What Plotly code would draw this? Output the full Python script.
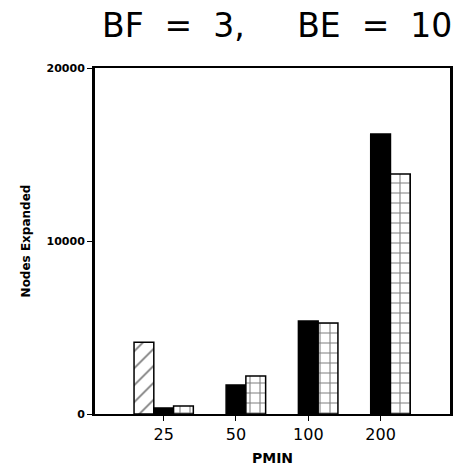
import plotly.graph_objects as go

categories = ["25", "50", "100", "200"]
hatched_vals = [4150, None, None, None]
black_vals = [350, 1680, 5380, 16180]
grid_vals = [460, 2200, 5260, 13870]
y_ticks = [0, 10000, 20000]
y_tick_labels = ["0", "10000", "20000"]

fig = go.Figure()
fig.add_trace(go.Bar(
    x=categories, y=hatched_vals, name="hatched",
    marker=dict(color="white", line=dict(color="black", width=1.5),
                pattern=dict(shape="/", fgcolor="black", bgcolor="white",
                             size=12, solidity=0.15, fillmode="overlay")),
))
fig.add_trace(go.Bar(
    x=categories, y=black_vals, name="black",
    marker=dict(color="black", line=dict(color="black", width=1.5)),
))
fig.add_trace(go.Bar(
    x=categories, y=grid_vals, name="grid",
    marker=dict(color="white", line=dict(color="black", width=1.5),
                pattern=dict(shape="+", fgcolor="black", bgcolor="white",
                             size=10, solidity=0.2, fillmode="overlay")),
))

fig.update_layout(
    width=457, height=472,
    margin=dict(l=95, r=4, t=68, b=58),
    paper_bgcolor="white", plot_bgcolor="white",
    barmode="group", bargap=0.18, bargroupgap=0,
    showlegend=False,
    xaxis=dict(
        type="category", range=[-0.95, 3.96],
        showline=True, linecolor="black", linewidth=2, mirror=True,
        ticks="outside", ticklen=5, tickcolor="black",
        tickfont=dict(family="DejaVu Sans", size=16, color="black"),
        title=dict(text="<b>PMIN</b>", font=dict(family="DejaVu Sans", size=14, color="black"),
                   standoff=10),
        showgrid=False,
    ),
    yaxis=dict(
        range=[0, 20000],
        tickvals=y_ticks, ticktext=y_tick_labels,
        showline=True, linecolor="black", linewidth=3, mirror=True,
        ticks="outside", ticklen=5, tickcolor="black",
        tickfont=dict(family="DejaVu Sans", size=11, color="black", weight="bold"),
        title=dict(text="<b>Nodes Expanded</b>", font=dict(family="DejaVu Sans", size=12, color="black"),
                   standoff=14),
        showgrid=False, zeroline=False,
    ),
    annotations=[dict(
        text="BF  =  3,     BE  =  10", x=1.0, xref="paper", xanchor="right", xshift=4,
        y=1 + (68 - 25) / (472 - 68 - 58), yref="paper", yanchor="middle", showarrow=False,
        font=dict(family="DejaVu Sans ExtraLight, DejaVu Sans", size=33, color="black"),
    )],
)

fig.write_html("out.html")
